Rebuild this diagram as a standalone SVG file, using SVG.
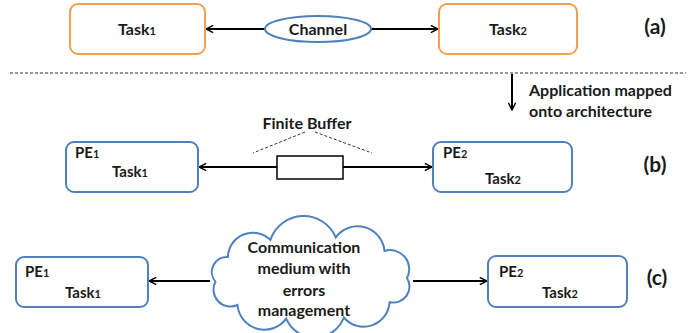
<svg xmlns="http://www.w3.org/2000/svg" width="694" height="333" viewBox="0 0 694 333">
<style>
.t{font-family:Lato,"Liberation Sans",sans-serif;font-weight:bold;fill:#1a1a1a}
.a{font-size:16px}
.b{font-size:15px}
.lbl{font-size:21px}
.sub{font-size:11px}
.ob{fill:#fff;stroke:#F0A050;stroke-width:2}
.bb{fill:#fff;stroke:#4F81BD;stroke-width:2}
.ln{stroke:#000;stroke-width:2;fill:none}
.dash{stroke:#333;stroke-width:1;stroke-dasharray:3,2;fill:none}
</style>
<defs>
<marker id="ar" viewBox="0 0 10 10" refX="9" refY="5" markerWidth="9" markerHeight="9" markerUnits="userSpaceOnUse" orient="auto">
<path d="M1,1 L9,5 L1,9" fill="none" stroke="#000" stroke-width="1.6"/>
</marker>
</defs>
<rect width="694" height="333" fill="#fff"/>

<g id="connectors">
<line class="ln" x1="265" y1="29" x2="206" y2="29" marker-end="url(#ar)"/>
<line class="ln" x1="371" y1="29" x2="438" y2="29" marker-end="url(#ar)"/>
<line class="dash" x1="10" y1="73" x2="686" y2="73"/>
<line class="ln" x1="512" y1="74" x2="512" y2="110" marker-end="url(#ar)"/>
<line class="ln" x1="277" y1="167" x2="199" y2="167" marker-end="url(#ar)"/>
<line class="ln" x1="343" y1="167" x2="432" y2="167" marker-end="url(#ar)"/>
<line class="dash" x1="305" y1="132" x2="253" y2="153"/>
<line class="dash" x1="315" y1="132" x2="372" y2="153"/>
<line class="ln" x1="210" y1="281" x2="149" y2="281" marker-end="url(#ar)"/>
<line class="ln" x1="413" y1="281" x2="487" y2="281" marker-end="url(#ar)"/>
</g>

<g id="task1a">
<rect class="ob" x="70" y="4" width="135" height="50" rx="8"/>
<text class="t a" x="137" y="35" text-anchor="middle">Task<tspan class="sub">1</tspan></text>
</g>
<g id="channel">
<ellipse cx="318" cy="29" rx="53" ry="13" fill="#fff" stroke="#4F81BD" stroke-width="2"/>
<text class="t a" x="318" y="35" text-anchor="middle">Channel</text>
</g>
<g id="task2a">
<rect class="ob" x="439" y="4" width="138" height="50" rx="8"/>
<text class="t a" x="508" y="35" text-anchor="middle">Task<tspan class="sub">2</tspan></text>
</g>
<g id="label-a"><text class="t lbl" x="655" y="34" text-anchor="middle">(a)</text></g>

<g id="mapping-note">
<text class="t a" x="529" y="96">Application mapped</text>
<text class="t a" x="529" y="117">onto architecture</text>
</g>

<g id="pe1b">
<rect class="bb" x="66" y="142" width="132" height="50" rx="8"/>
<text class="t b" x="75" y="158">PE<tspan class="sub">1</tspan></text>
<text class="t b" x="130" y="177" text-anchor="middle">Task<tspan class="sub">1</tspan></text>
</g>
<g id="buffer">
<rect x="277" y="156" width="66" height="23" fill="#fff" stroke="#000" stroke-width="1.5"/>
<text class="t a" x="307" y="129" text-anchor="middle">Finite Buffer</text>
</g>
<g id="pe2b">
<rect class="bb" x="433" y="142" width="139" height="50" rx="8"/>
<text class="t b" x="443" y="158">PE<tspan class="sub">2</tspan></text>
<text class="t b" x="503" y="184" text-anchor="middle">Task<tspan class="sub">2</tspan></text>
</g>
<g id="label-b"><text class="t lbl" x="655" y="172" text-anchor="middle">(b)</text></g>

<g id="pe1c">
<rect class="bb" x="16" y="257" width="132" height="50" rx="8"/>
<text class="t b" x="25" y="277">PE<tspan class="sub">1</tspan></text>
<text class="t b" x="83" y="298" text-anchor="middle">Task<tspan class="sub">1</tspan></text>
</g>
<g id="cloud">
<path d="M407,278 A16,16 0 0 1 389.6,302.1 A26,26 0 0 1 343.8,317.5 A31,31 0 0 1 286.2,318.6 A27,27 0 0 1 237.5,305 A17,17 0 0 1 215.4,281.7 A15,15 0 0 1 227.9,257 A25,25 0 0 1 270.4,239.9 A35,35 0 0 1 335.8,237.4 A27,27 0 0 1 384.5,251 A19,19 0 0 1 407,278 Z" fill="#fff" stroke="#4F81BD" stroke-width="2"/>
<text class="t a" x="304" y="253" text-anchor="middle">Communication</text>
<text class="t a" x="304" y="274" text-anchor="middle">medium with</text>
<text class="t a" x="304" y="296" text-anchor="middle">errors</text>
<text class="t a" x="304" y="316" text-anchor="middle">management</text>
</g>
<g id="pe2c">
<rect class="bb" x="488" y="256" width="139" height="51" rx="8"/>
<text class="t b" x="499" y="277">PE<tspan class="sub">2</tspan></text>
<text class="t b" x="560" y="298" text-anchor="middle">Task<tspan class="sub">2</tspan></text>
</g>
<g id="label-c"><text class="t lbl" x="657" y="285" text-anchor="middle">(c)</text></g>
</svg>
